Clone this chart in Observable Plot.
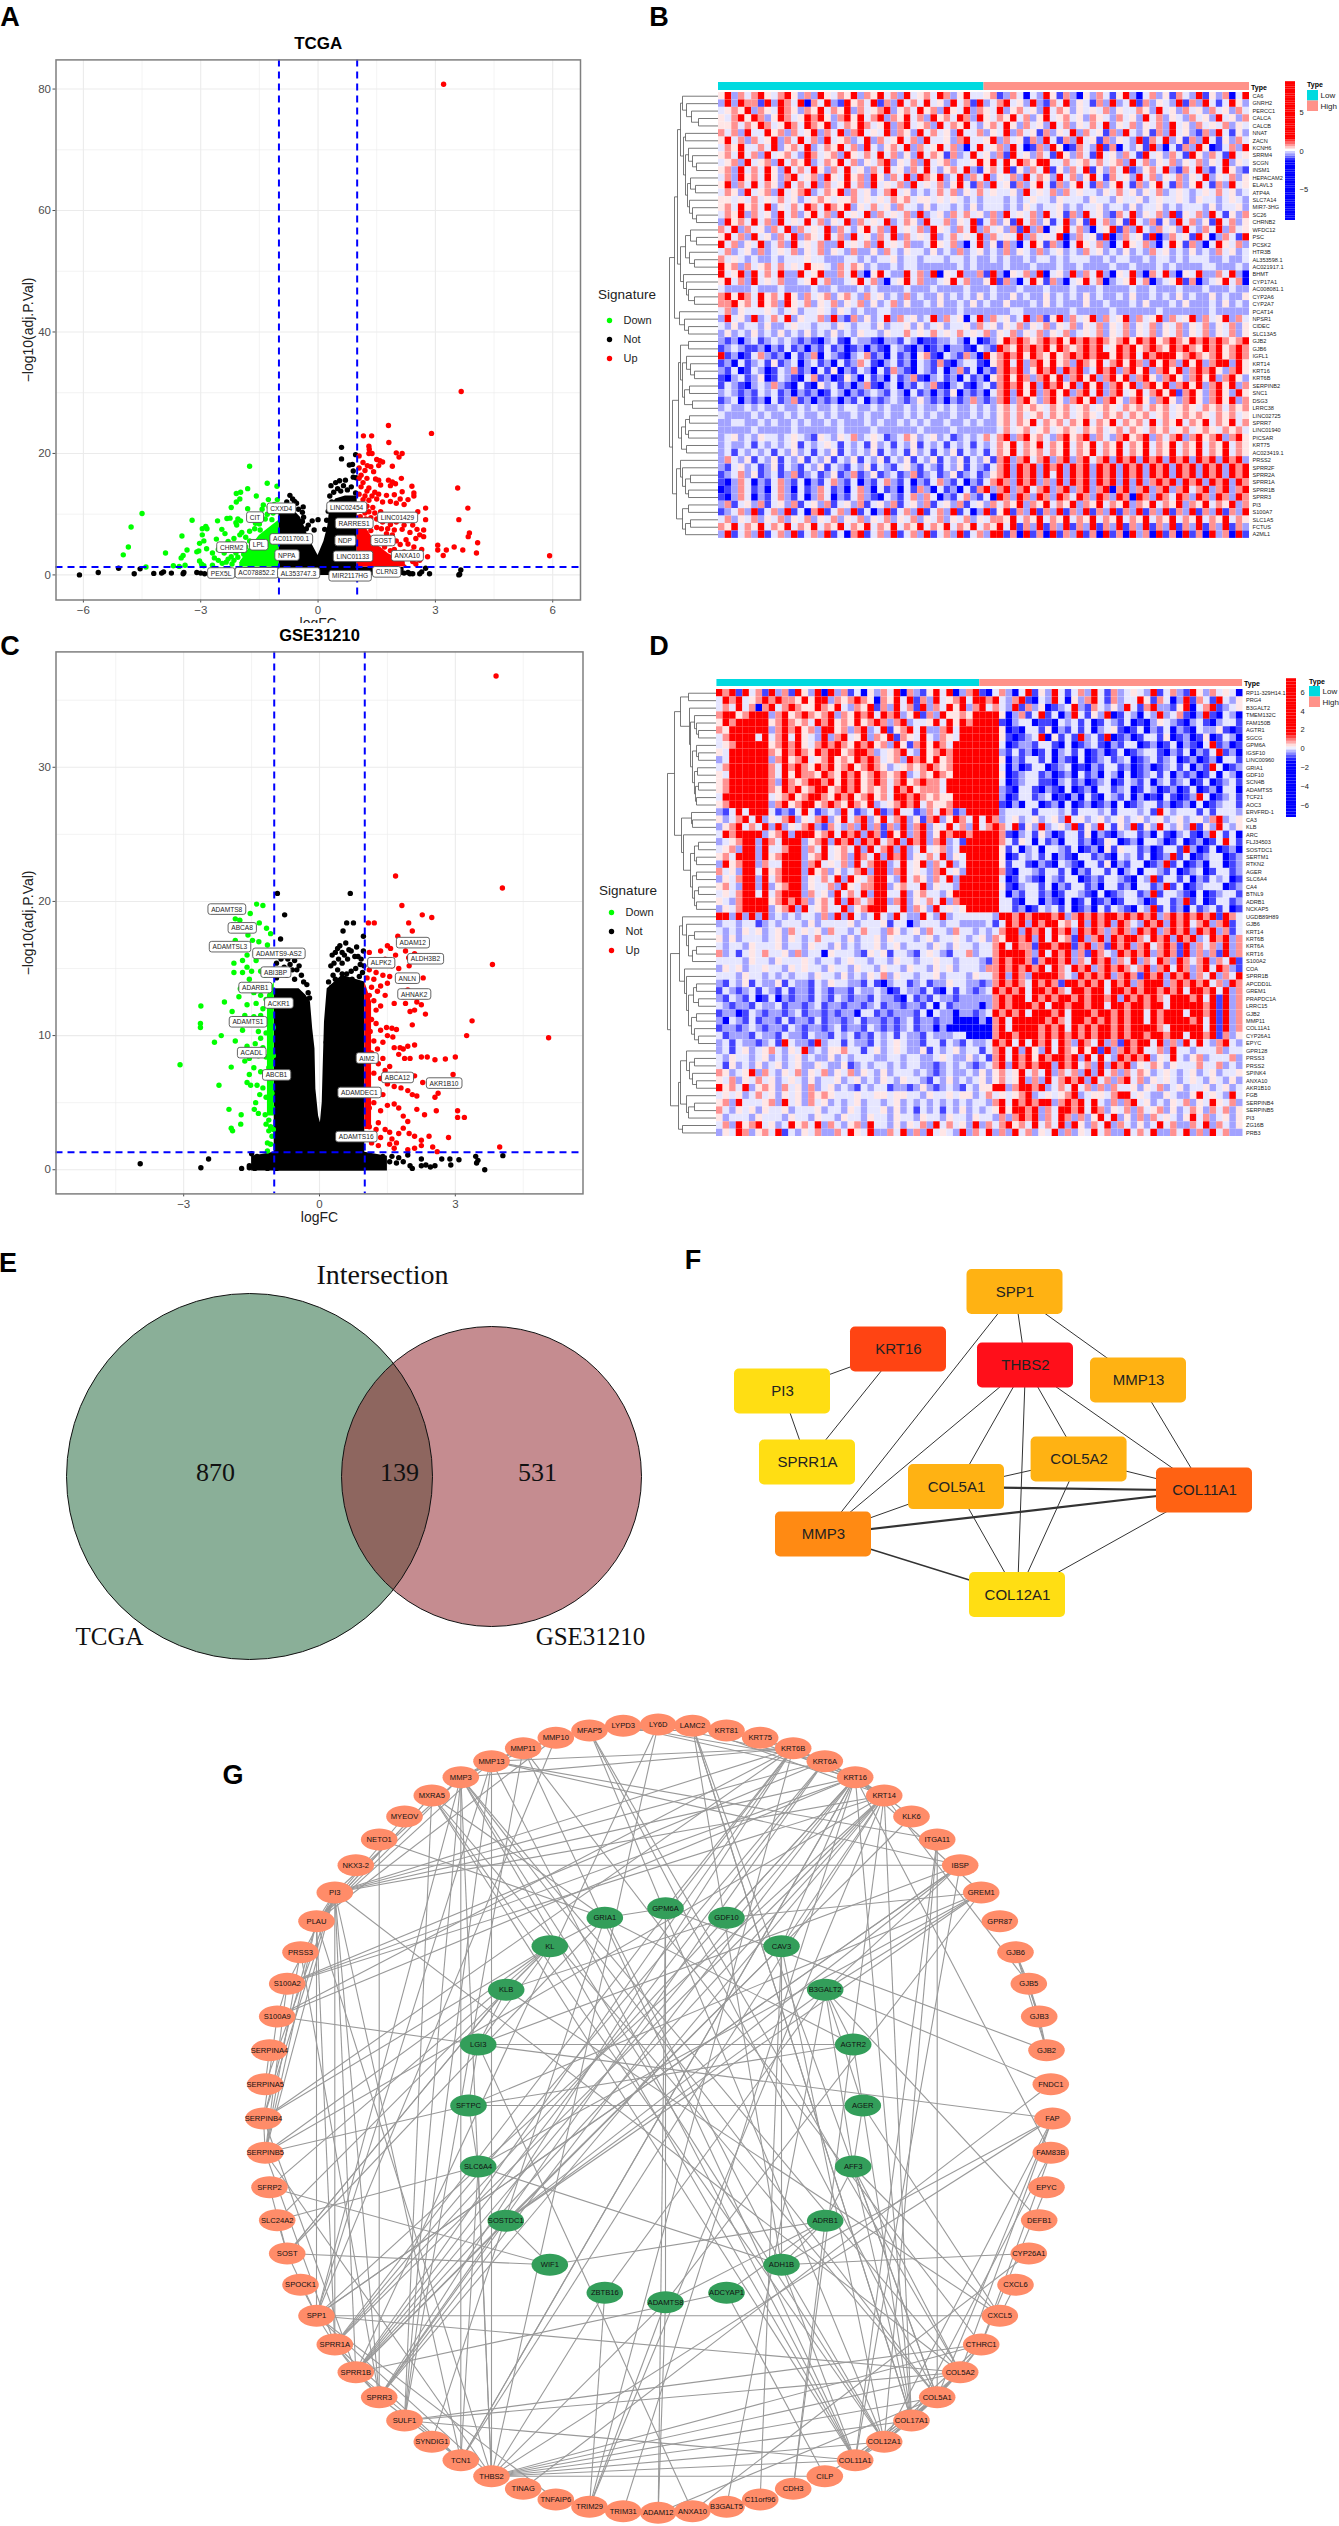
<!DOCTYPE html>
<html><head><meta charset="utf-8">
<script src="https://cdn.jsdelivr.net/npm/d3@7"></script>
<script src="https://cdn.jsdelivr.net/npm/@observablehq/plot@0.6"></script>
<style>
html,body{margin:0;background:#fff}
#page{position:relative;width:1339px;height:2526px;overflow:hidden;font-family:"Liberation Sans",Arial,sans-serif}
.p{position:absolute}.p svg{display:block;max-width:none}
.t{position:absolute;transform:translate(-50%,-50%);white-space:nowrap}
</style></head><body><div id="page"></div>
<script>
// ---------- Panel A: TCGA volcano (logFC, -log10 adj.P)
const aUp=[[3.21,80.8],[3.66,30.2],[5.92,3.15],[1.8,24.6],[1.16,22.9],[1.37,22.9],[1.81,21.8],[2.9,23.3],[1.3,21.2],[1.31,20.7],[2,20.1],[2.15,20],[2.07,19.4],[1.05,19.6],[1.3,20],[1.38,20],[1.5,19],[1.58,18.8],[1.65,18.6],[1.55,18],[1.15,18.5],[1.26,18],[1.35,17.8],[1.05,17.6],[1.2,17.2],[1.9,17.9],[1.42,17],[1.1,16.4],[1.05,15.9],[1.25,15.9],[1.47,15.8],[1.55,15.6],[1.8,15.6],[1.9,15.3],[2.13,15.9],[1.98,15],[2.4,14.6],[1.15,15.2],[1.1,14.5],[1.3,14.3],[1.25,13.8],[1.45,13.6],[1.6,14.8],[1.85,14.7],[2.15,13.7],[2.45,13.5],[2.45,13],[1.05,13.3],[1.2,13],[1.38,13],[1.55,13.3],[1.75,13.1],[1.95,13.2],[2.1,12.5],[2.3,12.4],[1.15,12.4],[1.3,12.3],[1.5,12.5],[1.65,12],[1.85,12.1],[2,11.8],[2.2,11.6],[2.75,11],[1.1,11.6],[1.25,11.3],[1.4,11.1],[2.55,10.4],[2.75,9.1],[2.45,9.6],[2.1,9.5],[2.3,9],[2,8.7],[1.85,8.3],[2.2,8.2],[2.42,8.2],[2.53,7.5],[2.7,7.4],[2.15,7.5],[1.95,7.4],[2.35,7],[2.6,6.6],[2.7,6.3],[2.5,6],[2.25,5.8],[2,5.6],[2.1,5],[2.3,5.1],[2.45,4.6],[2.65,4.2],[2.4,3.8],[2.55,3.3],[2.8,3],[2.35,2.8],[2.6,2.4],[2.5,1.8],[3.57,14.3],[3.83,11],[3.6,9.1],[3.87,6.9],[3.84,6.3],[4.08,5.3],[4.05,3.6],[3.7,4.1],[3.48,4.6],[3.06,4.9],[3.06,4.1],[3.2,3.2],[3.28,4.1],[1.6,10.4],[1.75,9.8],[1.45,10.2],[1.3,10.4],[1.65,8.7],[1.5,7.8],[1.35,7.3],[1.75,6.8],[1.4,5.2],[1.85,4],[1.6,3.2],[1.9,2.4],[2.1,2.5],[1.25,2.5],[1.75,2],[1.12,10.8],[1.2,10.2],[1.08,9.6],[1.22,9.2],[1.35,9.4],[1.5,9.2],[1.62,7.6],[1.78,7.6],[1.9,6.6],[1.7,5.8],[1.55,5.6],[1.85,5.2],[1.7,4.6],[1.55,4.2],[1.95,4.2],[2.2,3.8],[2.05,3.2],[2.25,2.8],[1.4,3.6],[2.42,2.2],[2.15,2]];
const aDown=[[-4.5,10.1],[-4.78,7.9],[-4.85,4.6],[-4.98,3.3],[-4.4,1.3],[-3.9,3.6],[-3.45,3.2],[-3.5,2.8],[-3.4,1.6],[-3.7,1.5],[-3.55,1.4],[-3.48,6.4],[-3.22,9],[-3.35,4.1],[-3.1,3.8],[-3.05,3.95],[-2.96,7.6],[-2.87,8],[-2.84,7.6],[-2.96,6.6],[-3.03,5.2],[-2.92,5.6],[-2.85,4.3],[-2.7,3.6],[-3.03,2.3],[-2.98,1.8],[-2.92,1.5],[-2.57,8.9],[-2.33,9.3],[-2.25,9.35],[-2.6,5.9],[-2.46,7.5],[-2.38,6.8],[-1.75,17.9],[-1.8,14.2],[-2.09,13.4],[-1.98,13.6],[-2.09,12],[-2,12.5],[-2.22,11.1],[-1.58,13],[-1.3,15.1],[-1.05,14.6],[-1.27,12.4],[-1.04,12.4],[-1.43,10.8],[-1.8,10.9],[-1.65,9.5],[-2.05,9.2],[-1.98,8.9],[-2.1,8.6],[-2.08,8.2],[-1.95,7],[-1.75,7.2],[-2,6.6],[-2.15,6],[-1.85,6.2],[-2.3,5.5],[-1.95,5],[-2.45,4.8],[-2.55,4.2],[-2.4,3.6],[-2.65,2.8],[-2.55,2.4],[-2.3,2.6],[-2.45,1.9],[-2.7,1.6],[-2.22,3],[-1.4,11.5],[-1.25,11.2],[-1.12,11.6],[-1.6,8.5],[-1.45,9.9],[-1.3,10],[-1.75,5.6],[-2.2,1.8],[-1.15,10.2],[-1.02,10.6],[-1.35,9.2],[-1.18,9.1],[-1.5,8.4],[-1.62,7.6],[-1.48,7.4],[-1.85,4.6],[-1.7,4.8],[-2.1,3.6],[-2.05,2.9],[-1.9,3.4],[-2.35,2.1],[-2.15,2.4],[-1.92,2.2]];
const aNot=[[-6.1,0],[-5.62,.4],[-5.1,1.1],[-4.7,.2],[-4.55,1],[-4.2,.25],[-4,.3],[-3.95,.5],[-3.75,.3],[-3.45,.2],[-3.43,.4],[-3.1,.4],[-3,.3],[-2.9,.2],[-2.75,.2],[-2.65,.4],[-2.55,.1],[-2.45,.1],[3.6,0],[3.62,.1],[3.65,.8],[2.6,.2],[2.65,.5],[2.85,.2],[2.75,1.1],[2.35,.2],[2.3,.4],[2.2,.3],[2,.5],[1.9,.3],[2.42,.2],[.6,21],[.6,19.1],[.96,19.8],[.8,18.1],[.88,18.2],[.9,17.1],[.9,16.1],[.97,16],[.33,14.7],[.45,15.2],[.55,15.5],[.65,14.7],[.7,15.6],[.5,14.2],[.58,13.8],[.4,13.6],[.3,13],[.75,14],[.85,14.5],[.96,13.5],[.35,12],[-.72,13.1],[-.65,12.5],[-.6,12.1],[-.55,11.8],[-.38,11.2],[-.4,10.3],[-.37,9.5],[-.4,8.8],[-.25,8.2],[-.15,8.9],[0,9.1],[-.1,7.4],[-.5,10.8],[-.8,12],[-.3,7.6],[.17,7.5],[.22,9],[.26,10.5]];
const aNotTop=[[-1,11],[-.8,11.6],[-.6,10.5],[-.45,9.5],[-.35,8],[-.25,6.2],[-.15,5],[0,3.2],[.15,5.5],[.25,8],[.3,11],[.45,12.5],[.7,13],[1,13]];
const aNotBase=[[-1.9,1.2],[-1,1.3],[1,1.3],[2.2,1.2]];
const aDownTop=[[-2,2],[-1.8,4],[-1.5,6.5],[-1.2,8],[-1,9]];
const aUpTop=[[1,10],[1.2,8],[1.5,5],[1.8,3.5],[2.1,2.5],[2.3,1.3]];
const aLabels=[["CXXD4",-.94,10.9],["CIT",-1.61,9.45],["LINC02454",.73,11.1],["LINC01429",2.03,9.4],["RARRES1",.92,8.44],["AC011700.1",-.69,5.86],["LPL",-1.52,4.9],["CHRM2",-2.21,4.5],["NDP",.69,5.6],["SOST",1.66,5.6],["NPPA",-.8,3.2],["LINC01133",.89,3],["ANXA10",2.28,3.1],["PEX5L",-2.48,.25],["AC078852.2",-1.57,.3],["AL353747.3",-.5,.25],["MIR2117HG",.82,-.2],["CLRN3",1.75,.44]];
// ---------- Panel C: GSE31210 volcano
const cUp=[[3.9,36.8],[4.04,21],[1.68,21.9],[5.06,9.84],[3.82,15.3],[3.37,11.1],[3.25,10],[3.98,1.7],[1.82,19.7],[2.27,19],[2.48,18.8],[1.97,18.4],[2.05,17.8],[1.73,17.4],[1.08,18.4],[1.21,18.4],[2.29,14.3],[2.34,11.6],[1.1,16.2],[1.35,16.3],[1.5,16.7],[1.57,16.5],[1.68,16],[1.9,16.3],[1.97,15.8],[2.1,16.1],[1.15,15.6],[1.3,15.4],[1.45,15.7],[1.6,15.2],[1.75,15],[1.98,15.2],[1.1,14.9],[1.25,14.7],[1.05,14.3],[1.2,14.2],[1.4,14.5],[1.55,14.4],[1.15,13.6],[1.35,13.7],[1.5,13.9],[1.28,13.3],[1.1,13],[1.2,12.6],[1.45,13],[1.65,12.4],[1.85,12.9],[1.95,13.4],[2.05,12.9],[2.15,12.5],[2.25,12.3],[1.35,12.2],[1.08,12],[1.25,11.9],[1.9,12.4],[2.1,11.9],[2,11.8],[1.15,11.2],[1.05,11],[1.25,10.9],[1.35,10.4],[1.12,10.3],[1.48,10.6],[1.6,10.55],[1.7,10.45],[2.05,10.8],[1.5,10],[1.62,9.9],[1.2,9.6],[1.4,9.5],[1.65,9.1],[1.78,9.1],[1.85,9],[1.95,9.2],[2.1,9.3],[1.28,9],[1.15,8.7],[1.75,8.6],[1.88,8.3],[2,8.3],[2.25,8.4],[2.38,8.4],[2.55,8.2],[2.78,8.25],[3,8.4],[1.4,8.3],[1.3,7.9],[1.55,7.7],[1.45,7.4],[1.2,7.2],[1.35,6.8],[1.55,7],[1.7,7.1],[1.85,7],[2.1,7],[2.28,6.5],[2.95,7.1],[1.5,6.4],[1.65,6.2],[1.8,6.1],[1.95,5.9],[2.05,5.6],[2.15,5.5],[2.55,5.4],[2.62,5.7],[1.25,5.6],[1.4,5.6],[1.2,5],[1.1,4.6],[1.35,4.4],[1.5,4.8],[1.65,4.9],[1.75,4.6],[2.15,4.5],[2.58,4.4],[3.05,4.4],[3.05,3.9],[3.2,3.9],[2.32,4.1],[1.85,4],[1.95,3.6],[1.3,3.5],[1.1,3.2],[1.25,3],[1.45,3],[1.55,2.8],[1.75,2.7],[1.85,3.1],[1.98,2.7],[2.1,2.5],[2.85,2.4],[2.42,2.5],[2.25,2.2],[1.35,2.4],[1.6,2.3],[1.7,2],[1.15,2],[1.3,1.8],[1.55,1.9],[1.65,1.6],[2.1,1.6],[2.25,1.8],[2.5,1.7],[2.6,1.35],[1.95,1.5]];
const cDown=[[-3.08,7.83],[-2.62,12.2],[-2.63,10.9],[-2.63,10.6],[-2.32,9.5],[-2.17,10],[-2.1,12.5],[-2.22,6.3],[-1.95,7.65],[-2,4.5],[-1.95,3.1],[-1.92,2.9],[-1.73,4.1],[-1.74,3.4],[-1.44,4.5],[-1.41,5],[-1.93,11.8],[-1.86,9.6],[-1.78,12.9],[-1.89,15.4],[-1.89,14.7],[-1.39,19.8],[-1.25,19.7],[-1.53,19.1],[-1.33,18.4],[-1.17,18],[-1.08,17.6],[-1.86,18.7],[-1.76,18.6],[-1.86,17.1],[-1.58,17.5],[-1.48,17.1],[-1.34,17],[-1.15,16.75],[-1.6,16],[-1.7,15.6],[-1.6,15.1],[-1.5,14.8],[-1.7,14.7],[-1.55,14.2],[-1.4,15.6],[-1.3,14.8],[-1.2,14.5],[-1.75,13.5],[-1.45,13.2],[-1.3,13],[-1.18,12.7],[-1.4,12.4],[-1.25,12],[-1.05,13.3],[-1.6,12.3],[-1.65,11.5],[-1.45,11.4],[-1.3,11.5],[-1.12,11],[-1.72,10.8],[-1.7,10.4],[-1.35,10.3],[-1.18,10.2],[-1.02,10.6],[-1.3,9.8],[-1.42,9.4],[-1.6,9.2],[-1.25,9.1],[-1.08,9.4],[-1.7,8.6],[-1.65,8.1],[-1.55,8.3],[-1.35,8.5],[-1.18,8.4],[-1.02,8.5],[-1.45,7.6],[-1.3,7.3],[-1.12,7.6],[-1.55,7.1],[-1.6,6.5],[-1.52,6.3],[-1.38,6.3],[-1.25,6.1],[-1.1,6.7],[-1.02,7],[-1.32,5.6],[-1.18,5.4],[-1.05,5.7],[-1.1,5],[-1.04,4.6],[-1.2,4.1],[-1.35,4.2],[-1.12,3.7],[-1.18,3.4],[-1.08,3.2],[-1.02,3],[-1.12,2.9],[-1.05,2.5],[-1.15,2],[-1.08,1.9],[-1.15,1.4]];
const cNot=[[-3.96,.45],[-2.62,.15],[-2.45,.8],[-1.72,.1],[-1.55,.15],[-1.55,.3],[-1.43,.1],[-1.4,.9],[-1.5,1.2],[-1.38,1],[-1.3,.3],[-1.25,.6],[-1.15,.1],[-1.1,.3],[-.95,.1],[1.55,.6],[1.6,1],[1.7,.5],[1.75,.9],[1.85,.6],[1.95,1.1],[2,.3],[2.05,.1],[2.25,.8],[2.25,.3],[2.35,.35],[2.45,.2],[2.55,.3],[2.7,.8],[2.88,.8],[2.9,.35],[3.08,.75],[3.45,1],[3.5,.7],[3.47,.5],[3.65,0],[4.05,1.05],[1.3,.4],[1.4,1],[1.15,.7],[-.93,20.6],[.68,20.6],[-.77,19],[-.86,17.2],[.6,18.4],[.75,18.4],[.52,17.8],[.97,17.4],[.58,16.9],[.45,16.7],[.4,16.5],[.28,16],[.35,16.2],[.7,16.3],[.97,16.3],[.85,15.9],[.5,15.4],[.3,14.5],[.2,14],[.7,14.8],[.9,15.3],[-.85,15.7],[-.7,15.7],[-.55,15.6],[-.4,14.5],[-.28,13.8],[-.25,13.2],[-.22,12.8],[-.6,14.9],[.22,12.5],[.18,11],[.15,9.5],[-.95,15.4],[-.9,14.8],[-.78,15.1],[-.65,15.3],[-.5,14.9],[-.45,15.2],[-.72,14.5],[-.55,14.2],[-.35,14],[-.95,14.3],[.25,15.2],[.32,15.4],[.42,15.7],[.55,16],[.62,15.7],[.78,15.9],[.92,15.7],[.4,14.9],[.6,14.6],[.8,15],[.95,14.7],[.35,14.2],[.5,14.6],[.27,13.6],[.72,14.2],[.88,14.4],[.98,15.2],[.65,16.4],[.5,16.2],[.82,16.6]];
const cNotTop=[[-1,13.5],[-.45,13.5],[-.3,13],[-.2,12.5],[-.15,10.5],[-.1,9],[-.08,6],[-.02,4],[.02,3.5],[.06,5],[.08,7.5],[.11,11],[.17,13.5],[.5,14.5],[1,14]];
const cNotBase=[[-1.5,1],[-1,1.3],[1,1.3],[1.5,1]];
const cDownTop=[[-1.15,13],[-1,14]];
const cUpTop=[[1,14],[1.15,12.5]];
const cLabels=[["ADAMTS8",-2.05,19.4],["ABCA8",-1.71,18],["ADAMTSL3",-1.98,16.6],["ADAMTS9-AS2",-.9,16.1],["ABI3BP",-.97,14.7],["ADARB1",-1.42,13.55],["ACKR1",-.9,12.4],["ADAMTS1",-1.58,11],["ACADL",-1.5,8.7],["ABCB1",-.95,7.04],["AIM2",1.05,8.3],["ABCA12",1.72,6.85],["AKR1B10",2.75,6.43],["ADAMDEC1",.88,5.73],["ADAMTS16",.81,2.44],["ADAM12",2.06,16.9],["ALDH3B2",2.34,15.7],["ALPK2",1.36,15.4],["ANLN",1.94,14.25],["AHNAK2",2.09,13.07]];
// ---------- Panels B, D: heatmaps (digit = expression level, coarse reading, 80 columns)
const levels=[-4,-1.1,-.55,-.15,.15,.65,4];
const bGenes=["CA6","GNRH2","PERCC1","CALCA","CALCB","NNAT","ZACN","KCNH6","SRRM4","SCGN","INSM1","HEPACAM2","ELAVL3","ATP4A","SLC7A14","MIR7-3HG","SC26","CHRNB2","WFDC12","PSC","PCSK2","HTR3B","AL353598.1","AC021917.1","BHMT","CYP17A1","AC008081.1","CYP2A6","CYP2A7","PCAT14","NPSR1","CIDEC","SLC13A5","GJB2","GJB6","IGFL1","KRT14","KRT16","KRT6B","SERPINB2","SNC1","DSG3","LRRC38","LINC02725","SPRR7","LINC01940","PICSAR","KRT75","AC023419.1","PRSS2","SPRR2F","SPRR2A","SPRR1A","SPRR1B","SPRR3","PI3","S100A7","SLC1A5","FCTUS","A2ML1"];
const bRows=[
"46253564356425264354625463526345365246334512530326415204253146203524153261425036",
"26265516265360536216453615263536342635162356342621536243152623615243261526313642",
"34546254365425463546253456245364526436254362453426354243435243354263425342534253",
"43564652465346564256463562546352645365264354635246345342543253426352432534263425",
"44535465346536546235465346256345263546324536425342635243536243524352634253435243",
"53526336452534625362563436254263534263352436253415243625341526324152634215263142",
"46352534625363526345236253463526334256334625341526315263415243261536241526314253",
"35463353624536235463526324536253463520363452630152640153261503241620315264013526",
"45363526345326534526435363524263541523634251634253164253163425316342531642531634",
"34526345263546235463524356243526345233464636465466335345353452635243524352436243",
"45263536426353642536342536342536324536214536142536142536142536124536215362136421",
"35264536425634526436452642536265462362536243526354263524631534263524352436243524",
"46253635426353625346352634352634352463152634152463152463152463152463152463152634",
"35426345263456235462534235634232353524353433426343525343324353424352343234353423",
"44343534353423454344534343545344343432323332323433243332433243342343343243323432",
"45364536243536536546243534253324233232423332324323342323342332423342323332423342",
"35462534263524635263436253435262342535342526343526341526342153624352614352631425",
"26453635263436352436253436235426335243613524163524136241635241632514263524163524",
"53625342536253436253246352634352643253625342516250346352034615263253426325362534",
"46352634253625436352634253625343623534362534362534360253416025341602534164025316",
"63524362352634352263435263435223643520362415203641520364352036435203641520364352",
"35234252343524352432522425324332423252342325243252342325342324232534232423253423",
"53432322323334332223323233423323332332322323223233232333223233223233232333223223",
"64525345353436443253542322323322222232322223222322232232222322322232322223322232",
"63462635362263462253620463226352604362251620435260342625362043620536204362253620",
"46352634352234635223463520346352234635224615203641520346350234635023461502346350",
"32222322232222322322232322223222322223222322232223222322232222322322232223222322",
"56465364536425345245325342325232242323242322423224232324232232422323242322423224",
"55645364526435243524352423524223242232423224222324232224223222324222324222324232",
"35243334323423343243232233222222222232222222332222222322222322222232222222322222",
"26342623536243352621524236253423625340362534236251462534625346253462534625346253",
"32423324223433233243233242334242342334253424352435243524352435243524352435243524",
"24232423242324232423243324335343534353435243524352435234352435243524352435243524",
"21202312323212102310322102213201122320301246565456564656565456465645654656565456",
"12321120213120213120120210321020120221032165465656465456563465645654656546564565",
"61201352120312503210235120312045103215206456564654645656566465636566645654564565",
"12031231412302312031253102312032151023310456362564645265463564652646526462566264",
"21301320132512031402132031521032130251302156562465626562365625646256462565642564",
"10231240132103512014203120312510231203120456465256462564625646256425642564625642",
"13210232521031042312025102302132510231023156564626564626462564625646256462564625",
"23212132312021201320212321320312021402120356264625646256362563463564615642564264",
"12302120312512021202130212321242120212521256256425642564625642564256425642564625",
"23223232232232322323322323223232232322323245354543545345345435453545345435453545",
"32222323223232232322323223223232322322323245353453545345435453545345345454354534",
"22332232322323223232223232232323223223232245354635453546354635453635463546354635",
"22222322222322222232222322222232222322222235345345345435453453543545345345435453",
"23423243323432143243523431235423423123235356256453256456253256456253562564562564",
"23223132323413234313231423132413231323132354635463546354635463546354635463546354",
"23132323132423132413232413231423132413231354635453546354635463546354635463546354",
"25324132413241324132413241324132413241324156256356256256356265626562656265626562",
"21342312413213241321324132134213213241321356265626562656265626562656265626562656",
"12352412312512312412512412312512312412312456265626362656265626562656265626562656",
"10253021352130213521302135213021352130213565265625262656265626262565626562656265",
"01253120352031253120352031203152031203156256256356256256256056256256256356256256",
"10253021352130253021352103213525302135213065265265265365265265065265365265265265",
"25134251342513425134251342513425134251342535462546354625463546254635462546354625",
"12352613526130561352613026135261352613026146152615261526152615261526152615261526",
"35243524352435243524352435243524352435243554635463546354635463546354635463546354",
"54635463546354635463546354635463546354635463615261526152615261526152615261526152",
"26135261352613526130561352613526135261352661506150615261506150625061506150625061"];
const dGenes=["RP11-329H14.1","PRG4","B3GALT2","TMEM132C","FAM150B","AGTR1","SGCG","GPM6A","IGSF10","LINC00960","GRIA1","GDF10","SCN4B","ADAMTS5","TCF21","AOC3","ERVFRD-1","CA3","KLB","ARC","FLJ34503","SOSTDC1","SERTM1","RTKN2","AGER","SLC6A4","CA4","BTNL9","ADRB1","NCKAP5","UGDB89H89","GJB6","KRT14","KRT6B","KRT6A","KRT16","S100A2","COA","SPRR1B","APCDD1L","GREM1","PRAPDC1A","LRRC15","GJB2","MMP11","COL11A1","CYP26A1","EPYC","GPR128","PRSS3","PRSS2","SPINK4","ANXA10","AKR1B10","FGB","SERPINB4","SERPINB5","PI3","ZG16B","PRB3"];
const dRows=[
"65616351625164260625130425360521463602561035203614263135263152343261352164253430",
"36563456565546466254565405463615263456366563256103263042563152336415302615316324",
"35363505635654465463254615263516253646256353261524012362153242631562214603561234",
"56645666256456545625465636562461526445466664025136130263142601320326235102610320",
"46566666456545365645464565256233463646566661023301103231301321301024321023102331",
"54666666256564526645256236145636225636666664010331402131302341013021302103224101",
"35666636356364326256346254615436325436666664101236041316231601201331401201401320",
"34566666456564356565465645264156465366666663012213310301231021330120130210361201",
"43666666546565465664566523456326456566666662131201302313012013012331021302136120",
"23666666256456345645465653452656464566666664021331302103012312301231230120120331",
"35666666536565465645645654234545654566666663020133012301021331201201231302163012",
"43666666536465546546564565456235465466666664012331201203120320301231302120130320",
"45666666526545665646564565356456553666666663012331102312012301321302312301301231",
"45666666546564566456564545365645553666666662103310210301203312301320120130120330",
"36666666345645665465645645366565454466666662013312301020310321302010310126301231",
"45666666256456645654654623456563544566666661020330120301201203012331201203012331",
"21363666312136312326312361263312536512666662333313332313332313332316323331313332",
"42356362435624356246356246356241562465363652342342342634234234234234234234256234",
"24563536262435621532526251526256243635263565361426234261426314261426324261426324",
"36566662456266645636562651646256246566566665102314201331402102331203102310263130",
"23456626536662456265626563562656256231666665314303120331201430120332013012013631",
"34526626335662536345362635626236345236666664130230332130120414331201331620130120",
"45366626456662456345265362656243536243666664013231302103312103231301261301233012",
"26456625336662563435263566236346253623666664133102103210331402133012613012033012",
"53426636456662645242356266256343256342666665103321331302133130230332130123013312",
"24356626356662435362643566326354253626666663013210321330121332103261331302132301",
"45326626245662433526435566245336243326666664102331302133120331203312613012333012",
"34356636356662534263536266336245332466666663021331201332103012331261332103012331",
"43256666456565245362653566256243536256666663310330210301301201332013312613013312",
"24356666245626345336245666336254263434666663312013231301203132103261312031231301",
"66262626232323325262632363263226326233333326656566656256565665656562565656561653",
"23323312323332423333423334133023332332222313656265664536265626532656265635625613",
"32324342342534342533235332542342533253323235662656365626565256526562565626562513",
"42423332342432353332423342433323423343234254665626364516256265665365626562365625",
"32332433342332433242323342342333243243323356365516656615625165625635651625352625",
"52313435334252330433321434133213432133523356666526365625165326565625651625251625",
"33332433243334323323433233243323343323332156566515665625365625362536526535625361",
"24342334332434332433243324332433243423332556565656365365625656535625636525636521",
"33324332323233243324232435243323342333243356265266665326565625651656265625362536",
"21324132241322132433221310233123122433221256565365651665656365625666256565635265",
"13212313213122132122132232013221310313212365656366565366566366565665656366563625",
"21321301302122132132122132210312132212222256566365656656566562656565366656361625",
"32122132231221231221221231221221303122220256566656366566566366566566366666561625",
"12201321221231221212203312122213032202212365656366656366656656566365666366561625",
"20321312213122131221231221212312212200002056366666565366565656566365666656361625",
"12212321221321221231221321212312202000000056366665656365656656566665366666361625",
"31222132213221322132312132313221322233000056656665656565656656566566566366561524",
"23132212316322162331322132343221331321322365636365636526536251656636252636325632",
"23134234532436232445331342343224132342331356362642636546461625656335263323335233",
"32433234232342322423233322332332234322423156365646566562636326565624363245233352",
"31423242342342243224123233232332212323212356265656626563526265624354243335335232",
"54234625324352435243524324233323212322324245346353625352626352535423432342342334",
"43524353423432423342342324324332132423234245346252635656263525635243432343243242",
"64536245425342523423213233122124212321324466256656235363525253342435234233423423",
"34342353424342545433343344344332433434423534345623434562344356634322432246343263",
"45263334526342534232342332342323232323233256365656625656363252563423243524364352",
"53243424334233342332432334242313231324232346466562536656365243525345242354253524",
"42333243332433243324332433243324332433243325256562536525246362425253432463523424",
"35264563423645362532452633242435263534262535645363536264253625324236352253625324",
"24365245361324352253643622536252634326253625263524362524363522635362253625263522"];
// dendrograms: nested [height, child, child], leaves = row index
const treeB=[49,[44,[41,[38,[36,0,[32,1,[27,2,[20,3,4]]]],[35,[33,5,6],[33,[30,7,[26,8,[22,9,10]]],[31,[28,11,[23,12,13]],[29,14,[26,15,[22,16,17]]]]]]],[38,[33,[28,18,[22,19,20]],[29,21,[24,22,23]]],[35,24,[32,25,[30,26,[24,27,28]]]]]],[39,29,[34,30,[30,31,32]]]],[46,[40,[38,[30,33,34],[36,[32,35,[28,36,[24,37,38]]],[34,[29,39,40],[26,41,42]]]],[37,[33,[29,43,44],[30,45,46]],[32,47,48]]],[42,[38,49,[36,50,[33,[28,51,52],[30,53,54]]]],[36,[30,55,56],[33,[28,57,58],59]]]]];
const treeD=[49,[42,[36,[28,0,1],[27,2,[26,[22,3,[20,4,[18,5,6]]],[24,[20,7,[18,8,9]],[22,[19,10,11],[21,[18,12,13],[20,14,15]]]]]]],[35,[25,16,[24,17,18]],[33,19,[26,[22,[18,20,21],[20,22,23]],[24,[20,24,25],[22,[18,26,27],[20,28,29]]]]]]],[46,[37,[34,30,[30,31,[28,[22,32,33],[24,[20,34,35],36]]]],[32,37,[30,38,[28,[23,[20,39,40],[18,41,42]],[25,[20,43,44],[22,45,[18,46,47]]]]]]],[38,[36,[30,48,[27,[22,49,50],[24,51,[20,52,53]]]],[30,54,[28,[22,55,56],57]]],[34,58,59]]]];
// ---------- Panel E: Venn
const vennSets=[{x:249,y:1476,r:183,fill:"#8AAF98",o:1},{x:491,y:1476,r:150,fill:"rgb(146,38,46)",o:.53}];
const vennLabels=[["Intersection",382,1275,28],["870",215,1472,26],["139",399,1472,26],["531",537,1472,26],["TCGA",109,1636,25],["GSE31210",590,1636,25]];
// ---------- Panel F: hub network
const fNodes=[["SPP1",1014.5,1291.5,"#FFB213"],["KRT16",898,1349,"#FF4413"],["THBS2",1025,1365,"#FF0F1A"],["MMP13",1138,1380,"#FFB213"],["PI3",782,1391,"#FFDE13"],["SPRR1A",807,1462,"#FFDE13"],["COL5A2",1078.6,1459,"#FFB213"],["COL5A1",956,1486.6,"#FFB213"],["COL11A1",1204,1490,"#FF6213"],["MMP3",823,1534,"#FF8A13"],["COL12A1",1017,1594.5,"#FFDE13"]];
const fEdges=[["SPP1","THBS2",1],["SPP1","MMP13",1],["SPP1","MMP3",1],["KRT16","PI3",1],["KRT16","SPRR1A",1],["PI3","SPRR1A",1],["THBS2","MMP3",1],["THBS2","COL5A1",1],["THBS2","COL12A1",1],["THBS2","COL5A2",1],["THBS2","COL11A1",1],["MMP13","COL11A1",1],["COL5A1","COL5A2",1],["COL5A1","COL11A1",2.2],["COL5A2","COL11A1",1],["COL5A1","MMP3",1],["MMP3","COL11A1",2.2],["MMP3","COL12A1",1.4],["COL5A1","COL12A1",1],["COL5A2","COL12A1",1],["COL11A1","COL12A1",1]];
// ---------- Panel G: PPI network
const gOuter=[["LY6D",657.7,1724],["LYPD3",622.7,1725.3],["MFAP5",589,1730],["MMP10",555.3,1737.3],["MMP11",522.7,1747.7],["MMP13",491,1760.7],["MMP3",460.3,1776.7],["MXRA5",431.3,1795],["MYEOV",404,1816],["NETO1",378.7,1839],["NKX3-2",355.3,1864.7],["PI3",334.3,1892],["PLAU",316,1920.7],["PRSS3",300,1951.7],["S100A2",286.7,1983.3],["S100A9",276.7,2016],["SERPINA4",269,2049.7],["SERPINA5",264.7,2083.7],["SERPINB4",263,2118],["SERPINB5",264.7,2152.3],["SFRP2",269,2186.7],["SLC24A2",276.7,2219.7],["SOST",286.7,2253],["SPOCK1",300,2284.3],["SPP1",316,2315.3],["SPRR1A",334.3,2344],["SPRR1B",355.3,2371.7],["SPRR3",378.7,2396.7],["SULF1",404,2420],["SYNDIG1",431.3,2441.3],["TCN1",460.3,2459.7],["THBS2",491,2475.7],["TINAG",522.7,2488.3],["TNFAIP6",555.3,2499],["TRIM29",589,2506.3],["TRIM31",622.7,2510.7],["ADAM12",657.7,2512.3],["ANXA10",692,2510.7],["B3GALT5",726,2506.3],["C11orf96",759.7,2499],["CDH3",792.7,2488.3],["CILP",824.3,2475.7],["COL11A1",854.7,2459.7],["COL12A1",883.7,2441.3],["COL17A1",911,2420],["COL5A1",936.7,2396.7],["COL5A2",959.7,2371.7],["CTHRC1",980.7,2344],["CXCL5",999.3,2315.3],["CXCL6",1015,2284.3],["CYP26A1",1028.3,2253],["DEFB1",1038.7,2219.7],["EPYC",1046,2186.7],["FAM83B",1050.3,2152.3],["FAP",1052,2118],["FNDC1",1050.3,2083.7],["GJB2",1046,2049.7],["GJB3",1038.7,2016],["GJB5",1028.3,1983.3],["GJB6",1015,1951.7],["GPR87",999.3,1920.7],["GREM1",980.7,1892],["IBSP",959.7,1864.7],["ITGA11",936.7,1839],["KLK6",911,1816],["KRT14",883.7,1795],["KRT16",854.7,1776.7],["KRT6A",824.3,1760.7],["KRT6B",792.7,1747.7],["KRT75",759.7,1737.3],["KRT81",726,1730],["LAMC2",692,1725.3]];
const gInner=[["GRIA1",604.3,1917.3],["GPM6A",665,1907.7],["KL",549.3,1945.7],["KLB",505.7,1989.3],["LGI3",477.7,2044],["SFTPC",468,2105],["SLC6A4",477.7,2166],["SOSTDC1",505.3,2220.3],["WIF1",549.3,2264.3],["ZBTB16",604.3,2292.3],["ADAMTS8",665,2301.7],["ADCYAP1",726,2292.3],["ADH1B",781,2264.3],["ADRB1",824.7,2220.3],["AFF3",852.7,2166],["AGER",862.3,2105],["AGTR2",852.7,2044],["B3GALT2",824.7,1989.3],["CAV3",781,1945.7],["GDF10",726,1917.3]];
const gEdges="NKX3-2 IBSP,SPP1 CXCL5,THBS2 CILP,THBS2 COL11A1,THBS2 COL12A1,THBS2 COL17A1,THBS2 COL5A1,THBS2 COL5A2,THBS2 CTHRC1,THBS2 FAP,THBS2 MMP13,THBS2 MMP3,THBS2 SPP1,COL11A1 COL12A1,COL11A1 COL5A1,COL11A1 COL5A2,COL11A1 MMP3,COL11A1 MMP13,COL11A1 MMP11,COL11A1 CTHRC1,COL11A1 ITGA11,COL12A1 COL5A1,COL12A1 COL5A2,COL12A1 COL17A1,COL12A1 MMP3,COL17A1 COL5A1,COL17A1 COL5A2,COL17A1 KRT14,COL17A1 LAMC2,COL17A1 KRT16,COL5A1 COL5A2,COL5A2 CTHRC1,COL5A1 CTHRC1,COL5A1 FAP,COL5A2 FAP,COL5A1 ITGA11,COL5A2 MMP3,COL5A1 MMP3,COL5A2 MFAP5,COL5A1 MFAP5,CTHRC1 MMP11,CTHRC1 FAM83B,COL17A1 FAM83B,MMP3 MMP13,MMP3 MMP10,MMP3 MMP11,MMP3 SPP1,MMP3 PLAU,MMP3 TCN1,MMP3 SULF1,MMP13 MMP11,MMP13 MMP10,MMP13 SPP1,MMP13 PLAU,MMP13 SULF1,MMP13 KRT6B,MMP10 SPP1,MMP10 PLAU,MMP11 SULF1,MXRA5 COL5A1,MXRA5 COL11A1,MXRA5 SULF1,MXRA5 COL12A1,MXRA5 PLAU,MYEOV PLAU,NETO1 SPRR3,NETO1 GRIA1,PI3 SPRR1A,PI3 SPRR1B,PI3 SPRR3,PI3 KRT6A,PI3 KRT6B,PI3 KRT16,PI3 KRT14,PI3 SERPINB4,PI3 SERPINB5,PI3 SERPINA5,PI3 PLAU,PI3 TCN1,PI3 MMP3,PI3 S100A2,PI3 COL5A2,PLAU SPRR1A,PLAU SPP1,PLAU SERPINB4,PLAU SERPINB5,PLAU THBS2,PLAU MXRA5,PRSS3 SPRR3,PRSS3 SERPINB5,KRT14 KRT16,KRT16 KRT6A,KRT6A KRT6B,KRT14 KRT6A,KRT14 KRT6B,KRT16 KRT6B,KRT75 KRT14,KRT81 KRT16,KRT75 KRT6A,KRT14 GJB5,KRT14 SPRR1A,KRT14 SPRR1B,KRT14 SPRR3,KRT14 S100A2,KRT14 TCN1,KRT14 SERPINB5,KRT16 SPRR1A,KRT16 SPRR1B,KRT16 SPRR3,KRT16 S100A2,KRT16 S100A9,KRT16 TCN1,KRT6A SPRR1A,KRT6A SPRR1B,KRT6A SPRR3,KRT6A S100A2,KRT6B SPRR1A,KRT6B SPRR1B,KRT6B SPRR3,KRT6B S100A9,KRT6B SERPINB4,KRT6B MMP3,LY6D SPRR1B,LY6D THBS2,LY6D KRT6A,LYPD3 KRT6A,LYPD3 KRT16,MFAP5 COL12A1,MFAP5 KRT81,LAMC2 COL5A1,LAMC2 COL17A1,LAMC2 ADH1B,LAMC2 KRT14,S100A2 S100A9,S100A2 SERPINB5,S100A9 SERPINB4,S100A9 LGI3,SERPINA4 SERPINA5,SERPINB4 SERPINB5,SERPINB5 SPRR1A,SERPINB5 THBS2,SERPINB4 SPRR1B,SFRP2 SOST,SFRP2 KL,SFRP2 WIF1,SLC24A2 SOST,SLC24A2 KL,SOST SPP1,SOST WIF1,SOST KLB,SOST GRIA1,SPOCK1 SPP1,SPP1 SPRR1A,SPP1 KRT14,SPP1 IBSP,SPP1 COL5A2,SPRR1A SPRR1B,SPRR1A SPRR3,SPRR1B SPRR3,SPRR1A TCN1,SPRR1B TCN1,SPRR3 TCN1,SULF1 COL5A2,SULF1 CTHRC1,SULF1 COL11A1,SYNDIG1 GRIA1,TCN1 KRT16,TINAG FNDC1,TNFAIP6 SPP1,TRIM29 KRT14,TRIM29 KRT6B,TRIM29 ZBTB16,TRIM29 ADAMTS8,TRIM31 KRT16,ADAM12 COL5A1,ADAM12 GPM6A,ADAM12 ADAMTS8,ANXA10 LGI3,ANXA10 CYP26A1,B3GALT5 B3GALT2,C11orf96 CAV3,CDH3 ADRB1,CDH3 KRT14,CILP ADCYAP1,CILP COL5A1,COL11A1 ADH1B,COL12A1 ADH1B,COL5A1 AFF3,COL5A2 AFF3,COL17A1 AFF3,COL17A1 AGER,CXCL5 CXCL6,CXCL5 AFF3,CXCL5 AGER,CXCL5 KLB,CYP26A1 ADH1B,DEFB1 B3GALT2,EPYC CTHRC1,FAM83B KRT16,FAP COL12A1,FAP ADH1B,FAP LGI3,FNDC1 B3GALT2,GJB2 GJB3,GJB3 GJB5,GJB5 GJB6,GJB2 GJB5,GJB3 GJB6,GJB2 GJB6,GJB2 GPM6A,GREM1 GDF10,GREM1 SFTPC,GREM1 SOSTDC1,GREM1 SLC6A4,GREM1 ADAMTS8,GREM1 KRT16,IBSP SPP1,IBSP LGI3,IBSP MMP13,IBSP COL11A1,ITGA11 COL12A1,ITGA11 MMP13,KLK6 KRT14,KLK6 SOSTDC1,KL KLB,KL GRIA1,KL LGI3,KL SERPINB5,KL SERPINB4,KLB LGI3,KLB SOST,GRIA1 GPM6A,GRIA1 ADH1B,GRIA1 AGTR2,GRIA1 MXRA5,GPM6A ADAMTS8,GPM6A KRT6B,SFTPC AGER,SFTPC SLC6A4,SFTPC LGI3,SFTPC SERPINB5,SFTPC AGTR2,SLC6A4 SLC24A2,SLC6A4 TCN1,SLC6A4 THBS2,SLC6A4 ADH1B,SOSTDC1 WIF1,SOSTDC1 B3GALT2,SOSTDC1 IBSP,SOSTDC1 SPRR3,SOSTDC1 SPRR1B,WIF1 ADRB1,ZBTB16 THBS2,ZBTB16 B3GALT2,ADAMTS8 THBS2,ADAMTS8 ADRB1,ADCYAP1 ADRB1,ADCYAP1 SPRR1B,ADH1B ADRB1,ADH1B CAV3,ADRB1 AFF3,AFF3 AGER,AFF3 B3GALT2,AGER AGTR2,AGER B3GALT2,AGTR2 B3GALT2,AGTR2 LGI3,CAV3 KRT14,CAV3 COL12A1,CAV3 KRT16,CAV3 SPRR1B,B3GALT2 IBSP,B3GALT2 GREM1,GDF10 KRT16,GDF10 KLB".split(",").map(s=>s.split(" "));

// ---------- helpers
const page=document.getElementById("page");
function place(node,x,y){const d=document.createElement("div");d.className="p";d.style.left=x+"px";d.style.top=y+"px";d.appendChild(node);page.appendChild(d);return d}
function txt(s,x,y,css){const e=document.createElement("div");e.className="t";e.textContent=s;e.style.left=x+"px";e.style.top=y+"px";e.style.cssText+=css;page.appendChild(e)}
const font={fontFamily:"Liberation Sans, Arial, sans-serif"};
const DOWN="#00ff00",UP="#ff0000",NOT="#000000",GRID="#ebebeb";
function volcano(o){
  const pt=d=>({x:d[0],y:d[1]});
  const area=(top,fill,base)=>Plot.areaY(top,{x:d=>d[0],y1:base,y2:d=>d[1],fill});
  return Plot.plot({width:600,height:o.h,marginLeft:55.5,marginRight:o.mr,marginTop:o.mt,marginBottom:o.mb,style:font,
    x:{domain:o.xd},y:{domain:o.yd},
    marks:[
      Plot.ruleX(o.xMinor,{stroke:GRID,strokeWidth:.6}),Plot.ruleY(o.yMinor,{stroke:GRID,strokeWidth:.6}),
      Plot.ruleX(o.xMajor,{stroke:GRID,strokeWidth:1.1}),Plot.ruleY(o.yMajor,{stroke:GRID,strokeWidth:1.1}),
      Plot.axisX({ticks:o.xMajor,label:null,tickSize:3,fontSize:11.5,color:"#4d4d4d",tickPadding:3}),
      Plot.axisY({ticks:o.yMajor,label:null,tickSize:3,fontSize:11.5,color:"#4d4d4d",tickPadding:2}),
      Plot.areaY(o.base,{x:d=>d[0],y1:-.1,y2:d=>d[1],fill:NOT}),
      area(o.notTop,NOT,-.1),
      Plot.dot(o.not.map(pt),{x:"x",y:"y",r:2.7,fill:NOT}),
      area(o.downTop,DOWN,o.greenBase),
      Plot.dot(o.down.map(pt),{x:"x",y:"y",r:2.7,fill:DOWN}),
      area(o.upTop,UP,o.redBase),
      Plot.dot(o.up.map(pt),{x:"x",y:"y",r:2.7,fill:UP}),
      Plot.ruleX(o.v,{stroke:"#0000ff",strokeWidth:2,strokeDasharray:"7 5"}),
      Plot.ruleY([1.3],{stroke:"#0000ff",strokeWidth:2,strokeDasharray:"7 5"}),
      Plot.text(o.labels,{x:d=>d[1],y:d=>d[2],text:d=>d[0],fontSize:6.6,fill:"#222"}),
      Plot.frame({stroke:"#7f7f7f",strokeWidth:1.5}),
      Plot.text(["logFC"],{frameAnchor:"bottom",lineAnchor:"middle",dy:o.xlab,fontSize:14,fill:"#222"}),
      Plot.text(["\u2212log10(adj.P.Val)"],{frameAnchor:"left",textAnchor:"middle",rotate:-90,dx:-27.7,fontSize:14,fill:"#222"}),
      Plot.text([o.title],{frameAnchor:"top",lineAnchor:"middle",dy:o.tdy,fontSize:o.tfs,fontWeight:"bold",fill:"#000"})
    ]});
}
function boxLabels(wrap,labels){
  const names=new Set(labels.map(d=>d[0]));
  wrap.querySelectorAll("text").forEach(t=>{
    if(!names.has(t.textContent))return;
    const b=t.getBBox(),r=document.createElementNS("http://www.w3.org/2000/svg","rect");
    r.setAttribute("x",b.x-3.2);r.setAttribute("y",b.y-1.8);r.setAttribute("width",b.width+6.4);r.setAttribute("height",b.height+3.6);
    r.setAttribute("rx",2.4);r.setAttribute("fill","#fff");r.setAttribute("stroke","#555");r.setAttribute("stroke-width",.9);
    if(t.getAttribute("transform"))r.setAttribute("transform",t.getAttribute("transform"));
    t.parentNode.insertBefore(r,t);
  });
}
function sigLegend(x,y,step,fs){
  const cats=[["Down",DOWN],["Not",NOT],["Up",UP]];
  const p=Plot.plot({width:70,height:step*3,margin:0,x:{domain:[0,70],axis:null},y:{domain:cats.map(d=>d[0]),axis:null},style:font,marks:[
    Plot.dot(cats,{x:()=>10,y:d=>d[0],r:2.7,fill:d=>d[1]}),
    Plot.text(cats,{x:()=>24,y:d=>d[0],text:d=>d[0],fontSize:fs,textAnchor:"start",fill:"#222"})]});
  place(p,x,y);
}
const CN=80;
const heatColor={type:"linear",domain:[-8,-1.5,0,1.5,8],range:["#0000ff","#0000ff","#ffffff","#ff0000","#ff0000"]};
function heat(rows,genes,x,y,w,h){
  const data=rows.flatMap((s,r)=>[...s.padEnd(CN,"3")].slice(0,CN).map((c,i)=>({g:genes[r],i,v:levels[+c]})));
  const p=Plot.plot({width:w+70,height:h,marginLeft:0,marginRight:70,marginTop:0,marginBottom:0,style:font,
    x:{domain:d3.range(CN),padding:0,round:false,axis:null},y:{domain:genes,padding:0,round:false,label:null},color:heatColor,
    marks:[Plot.cell(data,{x:"i",y:"g",fill:"v"}),Plot.axisY({anchor:"right",tickSize:0,tickPadding:3,fontSize:5.6,label:null,color:"#222"})]});
  place(p,x,y);
}
function annotation(x,y,w,h){
  const t=["Low","High"];
  place(Plot.plot({width:w,height:h,margin:0,x:{domain:t,padding:0,round:false,axis:null},y:{axis:null},color:{domain:t,range:["#00DAE0","#FF9289"]},
    marks:[Plot.cell(t,{x:d=>d,fill:d=>d})]}),x,y);
}
function dendro(tree,x,y,w,h){
  const segs=[];
  const walk=n=>{ if(typeof n==="number")return {r:n+.5,h:0};
    const a=walk(n[1]),b=walk(n[2]);
    segs.push({x1:n[0],y1:a.r,x2:a.h,y2:a.r},{x1:n[0],y1:b.r,x2:b.h,y2:b.r},{x1:n[0],y1:a.r,x2:n[0],y2:b.r});
    return {r:(a.r+b.r)/2,h:n[0]}; };
  walk(tree);
  place(Plot.plot({width:w,height:h,margin:0,x:{domain:[w,0],axis:null},y:{domain:[60,0],axis:null},
    marks:[Plot.link(segs,{x1:"x1",y1:"y1",x2:"x2",y2:"y2",stroke:"#555",strokeWidth:.8})]}),x,y);
}
function colorbar(x,y,h,dom,ticks){
  place(Plot.plot({width:36,height:h,marginLeft:0,marginRight:26,marginTop:0,marginBottom:0,style:font,x:{domain:[0,1],axis:null},y:{domain:dom},color:heatColor,
    marks:[Plot.rect(d3.range(dom[0],dom[1],.3),{x1:()=>0,x2:()=>1,y1:d=>d,y2:d=>d+.3,fill:d=>d}),
      Plot.axisY({anchor:"right",ticks,tickSize:0,tickPadding:4,fontSize:7.5,label:null,color:"#222"})]}),x,y);
}
function typeLegend(x,y){
  const t=["Low","High"];
  place(Plot.plot({width:40,height:21,marginLeft:0,marginRight:29,marginTop:0,marginBottom:0,style:font,x:{axis:null},y:{domain:t,padding:0,round:false,label:null},color:{domain:t,range:["#00DAE0","#FF9289"]},
    marks:[Plot.cell(t,{y:d=>d,fill:d=>d}),Plot.axisY({anchor:"right",tickSize:0,tickPadding:2,fontSize:8,label:null,color:"#222"})]}),x,y);
}

// ---------- build panels
const wrapA=place(volcano({h:592.6,mt:29.4,mb:23.1,mr:20,xd:[-6.7,6.71],yd:[-4.13,84.8],xMajor:[-6,-3,0,3,6],xMinor:[-4.5,-1.5,1.5,4.5],yMajor:[0,20,40,60,80],yMinor:[10,30,50,70],
  up:aUp,down:aDown,not:aNot,notTop:aNotTop,base:aNotBase,downTop:aDownTop,upTop:aUpTop,greenBase:1.3,redBase:1.3,v:[-1,1],labels:aLabels,title:"TCGA",tdy:-16,tfs:17,xlab:24}),0,30);
const wrapC=place(volcano({h:602.4,mt:28.4,mb:32,mr:17.5,xd:[-5.82,5.82],yd:[-1.8,38.6],xMajor:[-3,0,3],xMinor:[-4.5,-1.5,1.5,4.5],yMajor:[0,10,20,30],yMinor:[5,15,25,35],
  up:cUp,down:cDown,not:cNot,notTop:cNotTop,base:cNotBase,downTop:cDownTop,upTop:cUpTop,greenBase:4,redBase:3,v:[-1,1],labels:cLabels,title:"GSE31210",tdy:-16,tfs:16.5,xlab:23.5}),0,622.6);
boxLabels(wrapA,aLabels);boxLabels(wrapC,cLabels);
txt("Signature",627,293.5,"font-size:13.5px;color:#222");sigLegend(598.5,309.5,19.3,11);
txt("Signature",628,890,"font-size:13.5px;color:#222");sigLegend(601,902,19.3,11);

annotation(718,82,531,8);heat(bRows,bGenes,718,91.8,531,445.9);dendro(treeB,669,91.8,49,445.9);
colorbar(1284.5,81,139,[-9,9.1],[-5,0,5]);typeLegend(1307,89.5);
txt("Type",1259,86.5,"font-size:7px;font-weight:bold");txt("Type",1315,84,"font-size:7px;font-weight:bold");
annotation(716,678.6,526.5,7.7);heat(dRows,dGenes,716,688.8,526.5,447.2);dendro(treeD,667,688.8,49,447.2);
colorbar(1286,677.8,139.2,[-7.3,7.47],[-6,-4,-2,0,2,4,6]);typeLegend(1309,686);
txt("Type",1252,682.6,"font-size:7px;font-weight:bold");txt("Type",1317,680.6,"font-size:7px;font-weight:bold");

// Venn
const venn=Plot.plot({width:680,height:430,margin:0,x:{domain:[0,680],axis:null},y:{domain:[1670,1240],axis:null},r:{type:"identity"},style:{fontFamily:"Liberation Serif, serif"},marks:[
  Plot.dot(vennSets,{x:"x",y:"y",r:"r",fill:"fill",fillOpacity:"o",stroke:null}),
  Plot.dot(vennSets,{x:"x",y:"y",r:"r",fill:"none",stroke:"#111",strokeWidth:1}),
  Plot.text(vennLabels,{x:d=>d[1],y:d=>d[2],text:d=>d[0],fontSize:d=>d[3],fill:"#111"})]});
place(venn,0,1240);

// Hub network
const fIdx=new Map(fNodes.map(d=>[d[0],d]));
const fPlot=Plot.plot({width:600,height:380,margin:0,x:{domain:[680,1280],axis:null},y:{domain:[1630,1250],axis:null},style:font,marks:[
  Plot.link(fEdges,{x1:d=>fIdx.get(d[0])[1],y1:d=>fIdx.get(d[0])[2],x2:d=>fIdx.get(d[1])[1],y2:d=>fIdx.get(d[1])[2],stroke:"#333",strokeWidth:d=>d[2]}),
  Plot.rect(fNodes,{x1:d=>d[1]-48,x2:d=>d[1]+48,y1:d=>d[2]-22.5,y2:d=>d[2]+22.5,fill:d=>d[3],rx:5}),
  Plot.text(fNodes,{x:d=>d[1],y:d=>d[2],text:d=>d[0],fontSize:15,fill:"#222"})]});
place(fPlot,680,1250);

// PPI network
const ellipse={draw(c,size){const R=Math.sqrt(size/Math.PI),n=36;for(let i=0;i<n;i++){const a=i/n*2*Math.PI,x=R*Math.cos(a),y=.6*R*Math.sin(a);i?c.lineTo(x,y):c.moveTo(x,y)}c.closePath()}};
const gAll=[...gOuter.map(d=>[...d,"#FF8C69"]),...gInner.map(d=>[...d,"#339E5A"])];
const gIdx=new Map(gAll.map(d=>[d[0],d]));
const gLinks=gEdges.filter(e=>gIdx.has(e[0])&&gIdx.has(e[1]));
const gPlot=Plot.plot({width:880,height:826,margin:0,x:{domain:[220,1100],axis:null},y:{domain:[2526,1700],axis:null},style:font,marks:[
  Plot.link(gLinks,{x1:d=>gIdx.get(d[0])[1],y1:d=>gIdx.get(d[0])[2],x2:d=>gIdx.get(d[1])[1],y2:d=>gIdx.get(d[1])[2],stroke:"#999",strokeWidth:1.1}),
  Plot.dot(gAll,{x:d=>d[1],y:d=>d[2],r:18.3,symbol:ellipse,fill:d=>d[3],stroke:null}),
  Plot.text(gAll,{x:d=>d[1],y:d=>d[2],text:d=>d[0],fontSize:7.6,fill:"#111"})]});
place(gPlot,220,1700);

// panel letters
[["A",10,17],["B",659,17],["C",10,646],["D",659,646],["E",8,1263],["F",693,1260],["G",233,1775]].forEach(d=>txt(d[0],d[1],d[2],"font-size:27px;font-weight:bold;color:#000"));
</script></body></html>
